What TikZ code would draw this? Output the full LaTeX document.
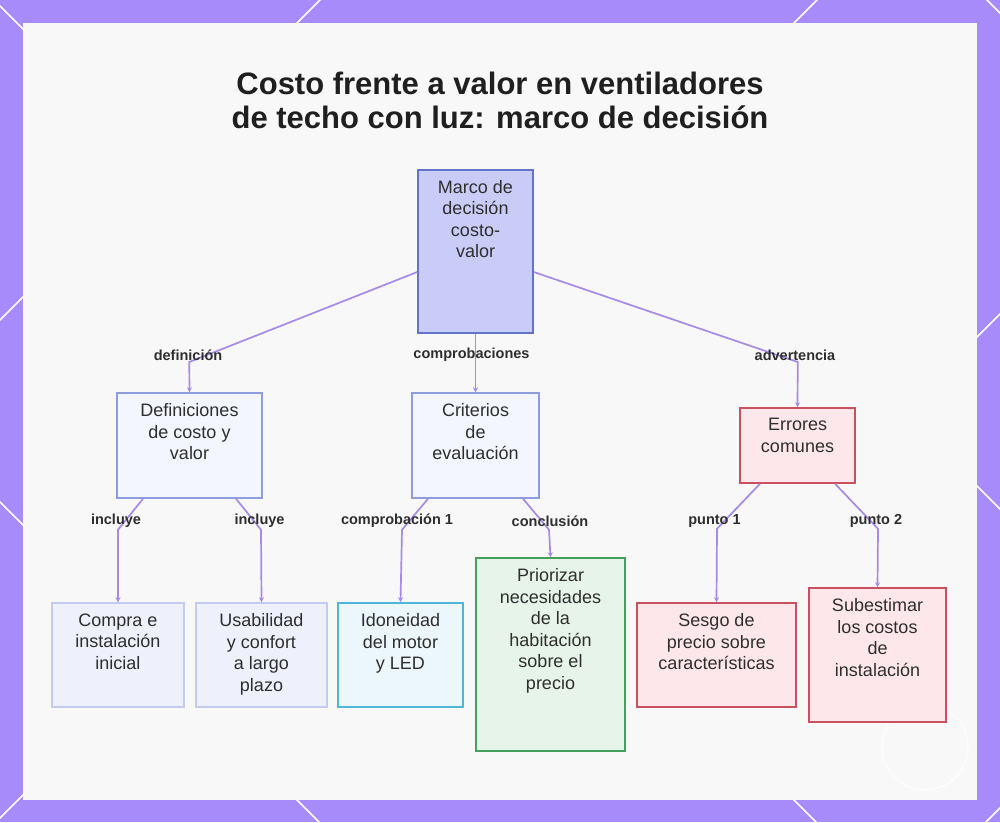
\documentclass[tikz,border=0pt]{standalone}
\usepackage{fontspec}
\setmainfont{Liberation Sans}
\usetikzlibrary{arrows.meta, positioning}
\definecolor{framepurple}{HTML}{A78BFA}
\definecolor{panelwhite}{HTML}{F8F8F8}
\definecolor{linkpurple}{HTML}{A68AE8}
\definecolor{inktext}{HTML}{2E2E2E}
\definecolor{titletext}{HTML}{1F1F1F}
\definecolor{rootfill}{HTML}{C9CCF6}
\definecolor{rootdraw}{HTML}{6373C9}
\definecolor{midfill}{HTML}{F4F6FE}
\definecolor{middraw}{HTML}{8D9DE0}
\definecolor{leaffill}{HTML}{EEF0FC}
\definecolor{leafdraw}{HTML}{C4CBF1}
\definecolor{cyanfill}{HTML}{ECF7FC}
\definecolor{cyandraw}{HTML}{4DB7D7}
\definecolor{greenfill}{HTML}{E7F4E9}
\definecolor{greendraw}{HTML}{45A05B}
\definecolor{errfill}{HTML}{FDE7EA}
\definecolor{errdraw}{HTML}{C9505F}
\tikzset{
  card/.style={rectangle, draw=#1, line width=1.5pt, inner sep=0pt},
  boxtext/.style={anchor=north, yshift=-11pt, align=center, inner sep=0pt,
              text=inktext, font=\fontsize{18}{21.5}\selectfont},
  rootbox/.style={card=rootdraw, fill=rootfill},
  midbox/.style={card=middraw, fill=midfill},
  leafbox/.style={card=leafdraw, fill=leaffill},
  cyanbox/.style={card=cyandraw, fill=cyanfill},
  greenbox/.style={card=greendraw, fill=greenfill},
  errbox/.style={card=errdraw, fill=errfill},
  conn/.style={draw=linkpurple, line width=1.7pt,
              -{Stealth[length=5pt, width=5pt]}},
  lbl/.style={font=\bfseries\fontsize{14.5}{16}\selectfont, text=inktext,
              inner sep=1pt},
  frameline/.style={draw=white, line width=1.6pt},
}

\begin{document}
\begin{tikzpicture}[x=1pt, y=-1pt]
  \useasboundingbox (0,0) rectangle (1000,822);
  % frame with diagonal cuts
  \fill[framepurple] (0,0) rectangle (1000,822);
  \begin{scope}
    \clip (0,0) rectangle (1000,822);
    \foreach \xa/\ya/\xb/\yb in {-2/4/30/36, 322/-2/290/30, 819/-2/787/30, 985/-2/1002/15,
        -2/322/30/290, -2/500/30/532, 970/344/1002/312, 970/479/1002/511,
        -2/820/30/788, 290/793/322/825, 787/793/819/825, 1002/806/984/824}
      \draw[frameline] (\xa,\ya) -- (\xb,\yb);
  \end{scope}
  \fill[panelwhite] (22.5,22.5) rectangle (977,800);
  \draw[white, line width=1pt, opacity=0.85] (925,747) circle (43);

  % title
  \node[font=\bfseries\fontsize{31}{34}\selectfont, text=titletext, align=center] (title) at (500,100)
        {Costo frente a valor en ventiladores\\de techo con luz: marco de decisión};

  % boxes
  \node[rootbox, minimum width=115pt, minimum height=163pt,
        label={[boxtext]north:{Marco de\\decisión\\costo-\\valor}}] (root) at (475.5,251.5) {};
  \node[midbox, minimum width=145pt, minimum height=105pt,
        label={[boxtext]north:{Definiciones\\de costo y\\valor}}] (defs) at (189.5,445.5) {};
  \node[midbox, minimum width=127pt, minimum height=105pt,
        label={[boxtext]north:{Criterios\\de\\evaluación}}] (criteria) at (475.5,445.5) {};
  \node[errbox, minimum width=115pt, minimum height=75pt,
        label={[boxtext]north:{Errores\\comunes}}] (errors) at (797.5,445.5) {};

  \node[leafbox, minimum width=132pt, minimum height=104pt,
        label={[boxtext]north:{Compra e\\instalación\\inicial}}] (purchase) at (118,655) {};
  \node[leafbox, minimum width=131pt, minimum height=104pt,
        label={[boxtext]north:{Usabilidad\\y confort\\a largo\\plazo}}] (comfort) at (261.5,655) {};
  \node[cyanbox, minimum width=125pt, minimum height=104pt,
        label={[boxtext]north:{Idoneidad\\del motor\\y LED}}] (motor) at (400.5,655) {};
  \node[greenbox, minimum width=149pt, minimum height=193pt,
        label={[boxtext]north:{Priorizar\\necesidades\\de la\\habitación\\sobre el\\precio}}] (needs) at (550.5,654.5) {};
  \node[errbox, minimum width=159pt, minimum height=104pt,
        label={[boxtext]north:{Sesgo de\\precio sobre\\características}}] (pricebias) at (716.5,655) {};
  \node[errbox, minimum width=137pt, minimum height=134pt,
        label={[boxtext]north:{Subestimar\\los costos\\de\\instalación}}] (install) at (877.5,655) {};

  % connectors
  \draw[conn] ([yshift=-20.5pt]root.west) -- ++(-228,90) -- (defs.north);
  \draw[conn] (root.south) -- (criteria.north);
  \draw[conn] ([yshift=-20.5pt]root.east) -- ++(264,90) -- (errors.north);
  \draw[conn] ([xshift=-46.5pt]defs.south) -- ++(-25,31) -- (purchase.north);
  \draw[conn] ([xshift=46.5pt]defs.south) -- ++(25,31) -- (comfort.north);
  \draw[conn] ([xshift=-47.5pt]criteria.south) -- ++(-26,31) -- (motor.north);
  \draw[conn] ([xshift=47.5pt]criteria.south) -- ++(26,31) -- (needs.north);
  \draw[conn] ([xshift=-37.5pt]errors.south) -- ++(-43,45) -- (pricebias.north);
  \draw[conn] ([xshift=37.5pt]errors.south) -- ++(43,45) -- (install.north);

  % connector labels
  \node[lbl] (ldef) at (188,355) {definición};
  \node[lbl] (lcheck) at (471.5,355) {comprobaciones};
  \node[lbl] (lwarn) at (795,355) {advertencia};
  \node[lbl] (linc1) at (116,521) {incluye};
  \node[lbl] (linc2) at (259.5,521) {incluye};
  \node[lbl] (lcheck1) at (397,521) {comprobación 1};
  \node[lbl] (lconcl) at (550,521) {conclusión};
  \node[lbl] (lpt1) at (714.5,521) {punto 1};
  \node[lbl] (lpt2) at (876,521) {punto 2};
\end{tikzpicture}
\end{document}
